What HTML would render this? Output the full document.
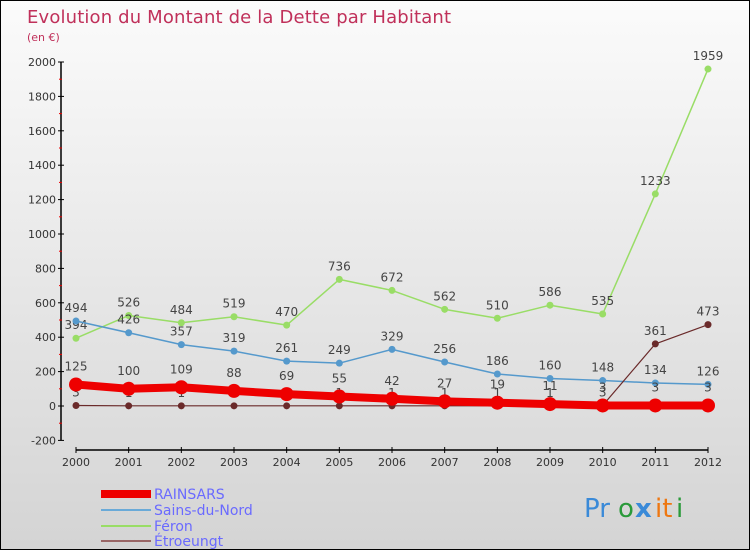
<!DOCTYPE html>
<html><head><meta charset="utf-8"><style>
body{margin:0;}
#c{width:748px;height:548px;border:1px solid #000;background:linear-gradient(#fbfbfb,#d4d4d4);position:relative;font-family:"DejaVu Sans","Liberation Sans",sans-serif;}
svg text{font-family:"DejaVu Sans","Liberation Sans",sans-serif;}
</style></head><body>
<div id="c">
<svg id="s" width="748" height="548">
<text x="26" y="22" font-size="18" fill="#c0305a" textLength="424">Evolution du Montant de la Dette par Habitant</text>
<text x="26" y="40" font-size="11" fill="#c0305a">(en €)</text>
<g id="axes"></g><g id="series"></g>
<g>
<line x1="100" y1="493" x2="150" y2="493" stroke="#ee0000" stroke-width="8"/>
<text x="153" y="498" font-size="14" fill="#6a6aff">RAINSARS</text>
<line x1="100" y1="509" x2="150" y2="509" stroke="#6aaad8" stroke-width="2"/>
<text x="153" y="514" font-size="14" fill="#6a6aff">Sains-du-Nord</text>
<line x1="100" y1="525" x2="150" y2="525" stroke="#99dd66" stroke-width="2"/>
<text x="153" y="530" font-size="14" fill="#6a6aff">Féron</text>
<line x1="100" y1="540" x2="150" y2="540" stroke="#996666" stroke-width="2"/>
<text x="153" y="545" font-size="14" fill="#6a6aff">Étroeungt</text>
</g>
<g font-size="26">
<text x="583" y="516" fill="#3a8ad8">Pr</text><text x="617" y="516" fill="#2a9a3a">o</text><text x="634" y="516" fill="#3a8ad8" font-weight="bold">x</text><text x="654" y="516" fill="#ee7711">it</text><text x="675" y="516" fill="#2a9a3a">i</text>
</g>
</svg></div>
<script>
const years=[2000,2001,2002,2003,2004,2005,2006,2007,2008,2009,2010,2011,2012];
const rainsars=[125,100,109,88,69,55,42,27,19,11,3,3,3];
const sains=[494,426,357,319,261,249,329,256,186,160,148,134,126];
const feron=[394,526,484,519,470,736,672,562,510,586,535,1233,1959];
const etroeungt=[3,1,1,1,1,1,1,1,1,1,3,361,473];
const yTicks=[-200,0,200,400,600,800,1000,1200,1400,1600,1800,2000];
const NS="http://www.w3.org/2000/svg";
const X=i=>75+i*(632/12);
const Y=v=>405-v*0.172;
function mk(t,a,p){const e=document.createElementNS(NS,t);for(const k in a)e.setAttribute(k,a[k]);p.appendChild(e);return e;}
const ax=document.getElementById('axes');
let l=mk('line',{x1:60,y1:Y(2000),x2:60,y2:Y(-200),stroke:'#000','stroke-width':1.5},ax);


yTicks.forEach(v=>{
 const t=mk('line',{x1:57,y1:Y(v),x2:63,y2:Y(v),stroke:'#000'},ax);
 
 
 if(v!==2000) mk('line',{x1:58,y1:Y(v+100),x2:61,y2:Y(v+100),stroke:'#e00'},ax);
 const tx=mk('text',{x:55,y:Y(v)+4,'font-size':11,fill:'#333','text-anchor':'end'},ax);
 tx.textContent=v;
 
 
});
l=mk('line',{x1:X(0),y1:449,x2:X(12),y2:449,stroke:'#000','stroke-width':1.5},ax);


years.forEach((y,i)=>{
 mk('line',{x1:X(i),y1:446,x2:X(i),y2:452,stroke:'#000'},ax);
 const tx=mk('text',{x:X(i),y:465,'font-size':11,fill:'#333','text-anchor':'middle'},ax);
 tx.textContent=y;
 
 
});
const sg=document.getElementById('series');
function draw(vals,col,w,r,name,labDy){
 const g=mk('g',{},sg);
 
 
 const p=mk('polyline',{points:vals.map((v,i)=>X(i)+','+Y(v)).join(' '),fill:'none',stroke:col,'stroke-width':w,'stroke-linejoin':'round'},g);
 
 
 vals.forEach((v,i)=>{
  const c=mk('circle',{cx:X(i),cy:Y(v),r:r,fill:col},g);
  
  
  const t=mk('text',{x:X(i),y:Y(v)+labDy,'font-size':12,fill:'#444','text-anchor':'middle'},g);
  t.textContent=v;
  
  
 });
}
draw(feron,'#99dd66',1.5,3.5,'feron',-9);
draw(sains,'#5599cc',1.5,3.5,'sains-du-nord',-9);
draw(etroeungt,'#6a2a2a',1.2,3.5,'etroeungt',-9);
draw(rainsars,'#ee0000',8,7,'rainsars',-14);
</script>
</body></html>
